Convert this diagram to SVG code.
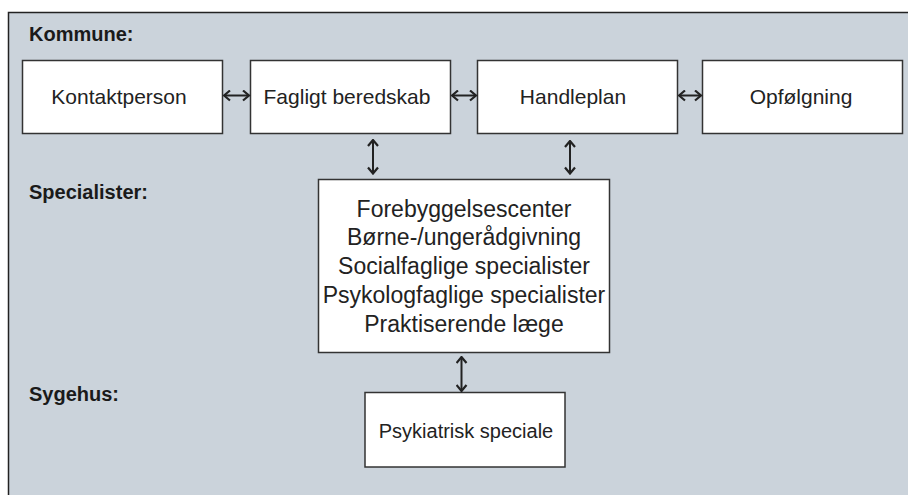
<svg xmlns="http://www.w3.org/2000/svg" width="908" height="495" viewBox="0 0 908 495">
<defs>
<style>
.panel{fill:#cbd3db;stroke:#222;stroke-width:1.5}
.box{fill:#fff;stroke:#333;stroke-width:1.5}
.t{font-family:"Liberation Sans",Arial,sans-serif;font-size:21px;fill:#222;text-anchor:middle}
.s{font-size:23px}
.lbl{font-family:"Liberation Sans",Arial,sans-serif;font-size:20px;font-weight:bold;fill:#1a1a1a}
.c{stroke:#222;stroke-width:2;fill:none;marker-start:url(#ah);marker-end:url(#ah)}
</style>
<marker id="ah" viewBox="0 0 12 12" refX="10.5" refY="6" markerWidth="12" markerHeight="12" markerUnits="userSpaceOnUse" orient="auto-start-reverse">
<path d="M4.5,1 L10.5,6 L4.5,11" fill="none" stroke="#222" stroke-width="2.2"/>
</marker>
</defs>
<rect class="panel" x="8.5" y="12.5" width="920" height="500"/>
<text class="lbl" x="29" y="40.5">Kommune:</text>
<text class="lbl" x="29" y="198.5">Specialister:</text>
<text class="lbl" x="29" y="400.5">Sygehus:</text>
<g id="kontaktperson">
<rect class="box" x="22.5" y="60.5" width="200" height="73"/>
<text class="t" x="119" y="104">Kontaktperson</text>
</g>
<g id="fagligt">
<rect class="box" x="250.5" y="60.5" width="200" height="73"/>
<text class="t" x="347" y="104">Fagligt beredskab</text>
</g>
<g id="handleplan">
<rect class="box" x="477.5" y="60.5" width="200" height="73"/>
<text class="t" x="573" y="104">Handleplan</text>
</g>
<g id="opfoelgning">
<rect class="box" x="702.5" y="60.5" width="200" height="73"/>
<text class="t" x="801" y="104">Opfølgning</text>
</g>
<g id="specialister">
<rect class="box" x="318.5" y="179.5" width="291" height="173"/>
<text class="t s" x="464" y="216.5">Forebyggelsescenter</text>
<text class="t s" x="464" y="245.3">Børne-/ungerådgivning</text>
<text class="t s" x="464" y="274">Socialfaglige specialister</text>
<text class="t s" x="464" y="303">Psykologfaglige specialister</text>
<text class="t s" x="464" y="332">Praktiserende læge</text>
</g>
<g id="psykiatrisk">
<rect class="box" x="365" y="392.5" width="200" height="74.5"/>
<text class="t" x="466" y="438" style="font-size:20px">Psykiatrisk speciale</text>
</g>
<g id="connectors">
<line class="c" x1="224" y1="95.5" x2="249" y2="95.5"/>
<line class="c" x1="452" y1="95.5" x2="476" y2="95.5"/>
<line class="c" x1="679" y1="95.5" x2="701" y2="95.5"/>
<line class="c" x1="373" y1="140" x2="373" y2="173.5"/>
<line class="c" x1="570" y1="141" x2="570" y2="173.5"/>
<line class="c" x1="461.5" y1="357" x2="461.5" y2="391"/>
</g>
</svg>
